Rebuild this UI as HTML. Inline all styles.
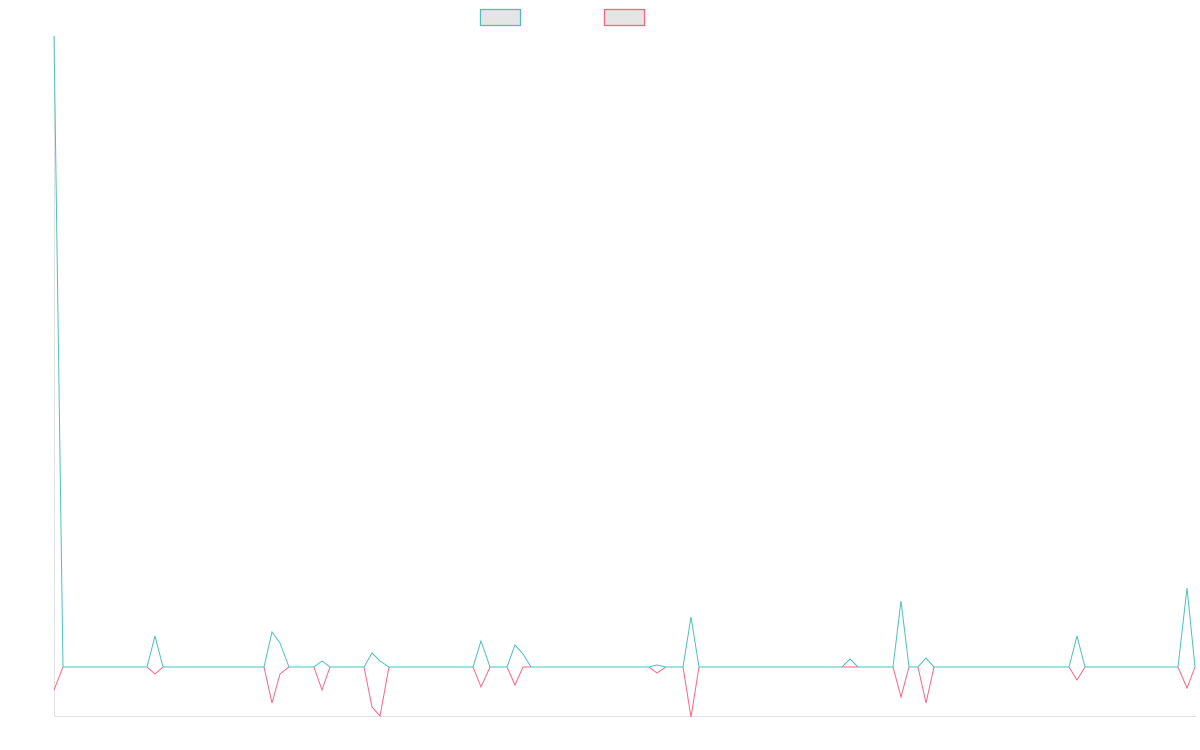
<!DOCTYPE html>
<html><head><meta charset="utf-8"><style>html,body{margin:0;padding:0;background:#fff}svg{display:block}</style></head>
<body>
<svg width="1200" height="750" viewBox="0 0 1200 750" xmlns="http://www.w3.org/2000/svg">
<rect x="480.5" y="9.5" width="40" height="16" fill="#e5e5e5" stroke="#4bc0c0" stroke-width="1.3"/>
<rect x="604.5" y="9.5" width="40" height="16" fill="#e5e5e5" stroke="#ff6384" stroke-width="1.3"/>
<line x1="54.5" y1="36" x2="54.5" y2="716.5" stroke="#e3e3e3" stroke-width="1"/>
<line x1="54" y1="716.5" x2="1196" y2="716.5" stroke="#e3e3e3" stroke-width="1"/>
<polyline fill="none" stroke="#ff6384" stroke-width="1" points="54,690 63,667 147,667 155,674 163,667 264,667 272,703 280,674 289,667 314,667 322,690 330,667 364,667 372,707 380,716 389,667 473,667 481,687 490,667 507,667 515,685 523,667 649,667 657,673 666,667 683,667 691,717 699,667 893,667 901,697 909,667 918,667 926,703 934,667 1069,667 1077,680 1085,667 1178,667 1187,688 1195,667"/>
<polyline fill="none" stroke="#4bc0c0" stroke-width="1" points="54,36 63,667 147,667 155,636 163,667 264,667 272,632 280,643 289,667 314,667 322,661 330,667 364,667 372,653 380,661 389,667 473,667 481,641 490,667 507,667 515,645 523,654 531,667 649,667 657,665 666,667 683,667 691,617 699,667 842,667 850,659 858,667 893,667 901,601 909,667 918,667 926,658 934,667 1069,667 1077,636 1085,667 1178,667 1187,588 1195,667"/>
</svg>
</body></html>
